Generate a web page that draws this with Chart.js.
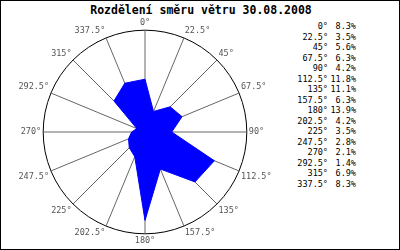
<!DOCTYPE html>
<html>
<head>
<meta charset="utf-8">
<script src="https://cdn.jsdelivr.net/npm/chart.js@4/dist/chart.umd.min.js"></script>
<style>
  html, body { margin: 0; padding: 0; background: #fff; }
  #frame { position: relative; width: 400px; height: 250px; box-sizing: border-box; border: 1px solid #000; overflow: hidden; }
  #title { position: absolute; left: 0; top: 2px; width: 400px; text-align: center; font: bold 11.5px "DejaVu Sans Mono", monospace; color: #000; }
  #chartBox { position: absolute; left: 10px; top: 17px; width: 270px; height: 228px; }
  #legend { position: absolute; left: 280px; top: 20px; font: 8.5px "DejaVu Sans Mono", monospace; color: #000; }
  .row { height: 10.53px; line-height: 10.53px; white-space: nowrap; }
  .row span { display: inline-block; text-align: right; }
  .deg { width: 47px; }
  .pct { width: 28px; }
</style>
</head>
<body>
<div id="frame">
  <div id="title">Rozdělení směru větru 30.08.2008</div>
  <div id="chartBox"><canvas id="windChart"></canvas></div>
  <div id="legend"></div>
</div>
<script>
// Wind directions and share of time (%)
const directions = ['0°', '22.5°', '45°', '67.5°', '90°', '112.5°', '135°', '157.5°',
  '180°', '202.5°', '225°', '247.5°', '270°', '292.5°', '315°', '337.5°'];
const shares = [8.3, 3.5, 5.6, 6.3, 4.2, 11.8, 11.1, 6.3, 13.9, 4.2, 3.5, 2.8, 2.1, 1.4, 6.9, 8.3];
const scaleMax = 16;

// Legend on the right
const legend = document.getElementById('legend');
directions.forEach((d, i) => {
  const row = document.createElement('div');
  row.className = 'row';
  row.innerHTML = `<span class="deg">${d}</span><span class="pct">${shares[i].toFixed(1)}%</span>`;
  legend.appendChild(row);
});

const ctx = document.getElementById('windChart').getContext('2d');
new Chart(ctx, {
  type: 'radar',
  data: {
    labels: directions,
    datasets: [{
      data: shares,
      backgroundColor: '#0000ff',
      borderColor: '#0000ff',
      borderWidth: 1,
      pointRadius: 0,
      fill: true,
      tension: 0
    }]
  },
  options: {
    responsive: true,
    maintainAspectRatio: false,
    animation: false,
    plugins: {
      legend: { display: false },
      tooltip: { enabled: false }
    },
    scales: {
      r: {
        min: 0,
        max: scaleMax,
        ticks: { display: false, stepSize: scaleMax },
        grid: { circular: true, color: '#000', lineWidth: 1 },
        angleLines: { color: '#666', lineWidth: 1 },
        pointLabels: {
          padding: 2,
          color: '#555',
          font: { family: 'DejaVu Sans Mono', size: 8.5 }
        }
      }
    }
  }
});
</script>
</body>
</html>
